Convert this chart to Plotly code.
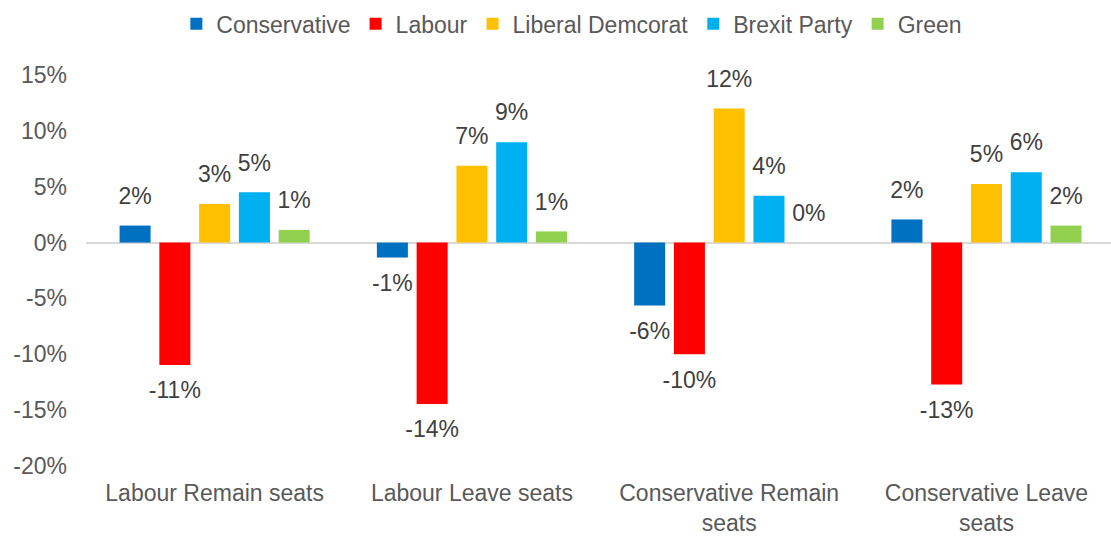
import plotly.graph_objects as go

categories = ["Labour Remain seats", "Labour Leave seats", "Conservative Remain<br>seats", "Conservative Leave<br>seats"]
parties = ["Conservative", "Labour", "Liberal Demcorat", "Brexit Party", "Green"]
conservative = [0.0152, -0.0134, -0.0563, 0.0207]
labour = [-0.1095, -0.1445, -0.1000, -0.1270]
liberal_democrat = [0.0345, 0.0688, 0.1200, 0.0524]
brexit_party = [0.0450, 0.0899, 0.0420, 0.0630]
green = [0.0113, 0.0100, 0.0000, 0.0152]
colors = ["#0070C0", "#FF0000", "#FFC000", "#00B0F0", "#92D050"]
y_tickvals = [-0.20, -0.15, -0.10, -0.05, 0.0, 0.05, 0.10, 0.15]
y_ticktext = ["-20%", "-15%", "-10%", "-5%", "0%", "5%", "10%", "15%"]

series = [conservative, labour, liberal_democrat, brexit_party, green]

fig = go.Figure()
for name, vals, col in zip(parties, series, colors):
    fig.add_trace(go.Bar(
        name=name, x=categories, y=vals, offsetgroup=name,
        marker=dict(color=col, line=dict(width=0)),
        hoverinfo="skip",
    ))
for name, vals in zip(parties, series):
    fig.add_trace(go.Scatter(
        x=categories, y=vals, offsetgroup=name, mode="markers+text",
        marker=dict(size=24, opacity=0),
        texttemplate="%{y:.0%}",
        textposition=["top center" if v >= 0 else "bottom center" for v in vals],
        textfont=dict(size=23, color="#404040"),
        showlegend=False, hoverinfo="skip", cliponaxis=False,
    ))

fig.update_layout(
    width=1111, height=536,
    barmode="group", bargap=0.227, bargroupgap=0.22,
    scattermode="group", scattergap=0.227,
    paper_bgcolor="white", plot_bgcolor="white",
    font=dict(family="Arial, Liberation Sans, sans-serif", size=23, color="#595959"),
    margin=dict(l=86, r=0, t=75, b=67),
    legend=dict(orientation="h", x=0.474, xanchor="center", y=1.131, yanchor="middle",
                font=dict(size=23, color="#595959"), itemwidth=30, traceorder="normal"),
    xaxis=dict(showline=False, showgrid=False, ticks="", tickfont=dict(size=23),
               range=[-0.5, 3.484], ticklabelstandoff=11),
    yaxis=dict(range=[-0.2, 0.15], tickvals=y_tickvals, ticktext=y_ticktext, showgrid=False,
               zeroline=True, zerolinecolor="#D9D9D9", zerolinewidth=1.5,
               showline=False, ticks="", tickfont=dict(size=23), ticklabelstandoff=18),
)

fig.write_html("out.html", config={"displayModeBar": False},
               post_script="document.body.style.margin='0';document.body.style.overflow='hidden';")
